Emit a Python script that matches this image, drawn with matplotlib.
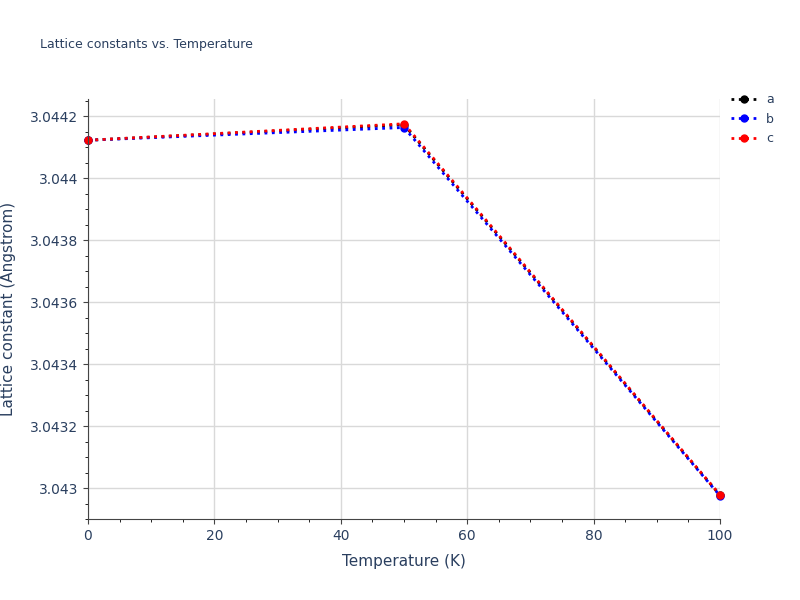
import matplotlib.pyplot as plt
import numpy as np

temps = [0, 50, 100]
a = [3.044122, 3.044172, 3.042977]
b = [3.044122, 3.044163, 3.042975]
c = [3.044122, 3.044175, 3.042978]

fig = plt.figure(figsize=(8, 6), dpi=100)
ax = fig.add_axes([0.11, 0.135, 0.79, 0.70])
grid = "#d9d9d9"
for vals, col, name in [(a, "black", "a"), (b, "blue", "b"), (c, "red", "c")]:
    ax.plot(temps, vals, ls=":", lw=2, color=col, marker="o", ms=5, label=name, clip_on=False)

ax.set_xlim(0, 100)
ax.set_ylim(3.04290, 3.044255)
ax.set_xticks(np.arange(0, 101, 20))
ax.set_xticks(np.arange(0, 101, 5), minor=True)
ax.set_yticks([3.0430, 3.0432, 3.0434, 3.0436, 3.0438, 3.0440, 3.0442])
ax.set_yticklabels(["3.043", "3.0432", "3.0434", "3.0436", "3.0438", "3.044", "3.0442"])
ax.set_yticks(np.arange(3.0429, 3.04426, 0.00005), minor=True)
ax.grid(True, color=grid, lw=1)
ax.set_axisbelow(True)
for s in ["top", "right"]:
    ax.spines[s].set_visible(False)
for s in ["left", "bottom"]:
    ax.spines[s].set_color("#444444")
ax.tick_params(colors="#444444", labelcolor="#2a3f5f", labelsize=10)
ax.set_xlabel("Temperature (K)", color="#2a3f5f", fontsize=11, labelpad=8)
ax.set_ylabel("Lattice constant (Angstrom)", color="#2a3f5f", fontsize=11, labelpad=10)
fig.text(0.05, 0.92, "Lattice constants vs. Temperature", color="#2a3f5f", fontsize=9)
ax.legend(loc="upper left", bbox_to_anchor=(1.0, 1.04), frameon=False, fontsize=9,
          handlelength=2, labelcolor="#2a3f5f")
fig.savefig("out.png")
